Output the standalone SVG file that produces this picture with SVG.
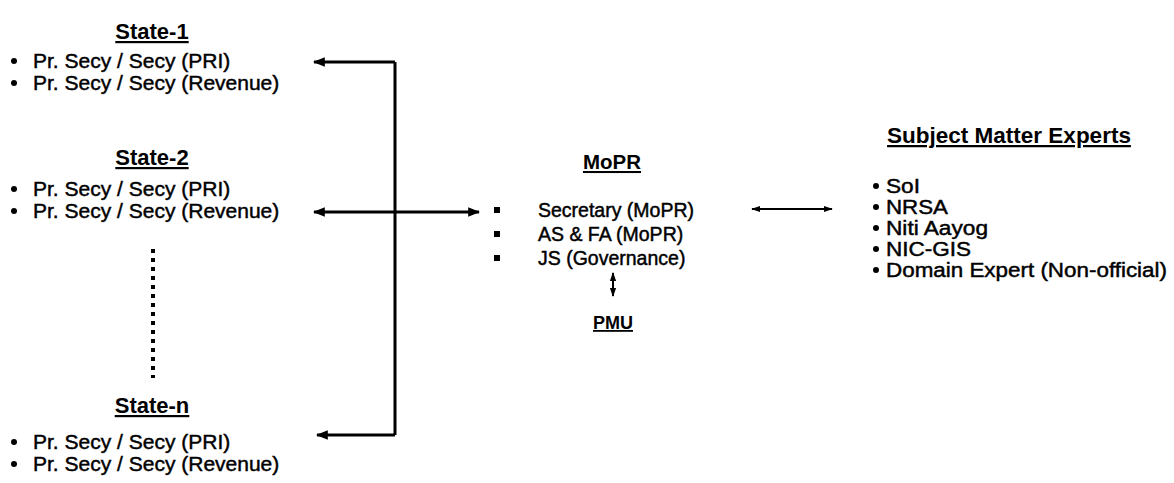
<svg xmlns="http://www.w3.org/2000/svg" width="1174" height="483" viewBox="0 0 1174 483">
<style>
text{font-family:"Liberation Sans",Arial,sans-serif;fill:#000}
.h{font-weight:bold;font-size:22px;text-decoration:underline;text-anchor:middle}
.t{font-size:21px;stroke:#000;stroke-width:0.45}
.m{font-size:19.5px;stroke:#000;stroke-width:0.45}
.s{font-size:20px;stroke:#000;stroke-width:0.45}
.ln{stroke:#000;stroke-width:3;fill:none}
.thin{stroke:#000;stroke-width:2;fill:none}
</style>
<defs>
<marker id="ah" viewBox="0 0 10 10" refX="9" refY="5" markerWidth="4" markerHeight="4" orient="auto-start-reverse"><path d="M0,1 L10,5 L0,9 z" fill="#000"/></marker>
<marker id="ahs" viewBox="0 0 10 10" refX="9" refY="5" markerWidth="4.5" markerHeight="4.5" orient="auto-start-reverse"><path d="M0,1.5 L10,5 L0,8.5 z" fill="#000"/></marker>
</defs>
<rect width="1174" height="483" fill="#fff"/>
<g id="state1">
<text class="h" x="152" y="39">State-1</text>
<circle cx="14" cy="61" r="3"/><text class="t" x="33" y="68">Pr. Secy / Secy (PRI)</text>
<circle cx="14" cy="83" r="3"/><text class="t" x="33" y="90">Pr. Secy / Secy (Revenue)</text>
</g>
<g id="state2">
<text class="h" x="152" y="165">State-2</text>
<circle cx="14" cy="189" r="3"/><text class="t" x="33" y="196">Pr. Secy / Secy (PRI)</text>
<circle cx="14" cy="211" r="3"/><text class="t" x="33" y="218">Pr. Secy / Secy (Revenue)</text>
</g>
<g id="staten">
<text class="h" x="152" y="413">State-n</text>
<circle cx="14" cy="442" r="3"/><text class="t" x="33" y="449">Pr. Secy / Secy (PRI)</text>
<circle cx="14" cy="464" r="3"/><text class="t" x="33" y="471">Pr. Secy / Secy (Revenue)</text>
</g>
<g id="mopr">
<text class="h" x="612" y="169" style="font-size:20.5px">MoPR</text>
<rect x="494" y="207" width="6" height="6"/><text class="m" x="538" y="217">Secretary (MoPR)</text>
<rect x="494" y="231" width="6" height="6"/><text class="m" x="538" y="241">AS &amp; FA (MoPR)</text>
<rect x="494" y="255" width="6" height="6"/><text class="m" x="538" y="265">JS (Governance)</text>
</g>
<g id="pmu">
<text class="h" x="613" y="329" style="font-size:18px">PMU</text>
</g>
<g id="sme">
<text class="h" x="1009" y="143" style="font-size:22.5px">Subject Matter Experts</text>
<circle cx="876" cy="186" r="3"/><text class="s" x="886" y="193" textLength="34" lengthAdjust="spacingAndGlyphs">SoI</text>
<circle cx="876" cy="207" r="3"/><text class="s" x="886" y="214" textLength="62" lengthAdjust="spacingAndGlyphs">NRSA</text>
<circle cx="876" cy="228" r="3"/><text class="s" x="886" y="235" textLength="102" lengthAdjust="spacingAndGlyphs">Niti Aayog</text>
<circle cx="876" cy="249" r="3"/><text class="s" x="886" y="256" textLength="85" lengthAdjust="spacingAndGlyphs">NIC-GIS</text>
<circle cx="876" cy="270" r="3"/><text class="s" x="886" y="277" textLength="281" lengthAdjust="spacingAndGlyphs">Domain Expert (Non-official)</text>
</g>
<g id="connectors">
<path class="ln" d="M395,62 L395,435"/>
<path class="ln" d="M395,62 L314,62" marker-end="url(#ah)"/>
<path class="ln" d="M395,435 L317,435" marker-end="url(#ah)"/>
<path class="ln" d="M395,212 L314,212" marker-end="url(#ah)"/>
<path class="ln" d="M395,212 L479,212" marker-end="url(#ah)"/>
<path class="thin" d="M752,209 L832,209" marker-start="url(#ahs)" marker-end="url(#ahs)"/>
<path class="thin" d="M613,273 L613,296" marker-start="url(#ahs)" marker-end="url(#ahs)"/>
<path d="M153,249 L153,378" stroke="#000" stroke-width="4" stroke-dasharray="4,5"/>
</g>
</svg>
